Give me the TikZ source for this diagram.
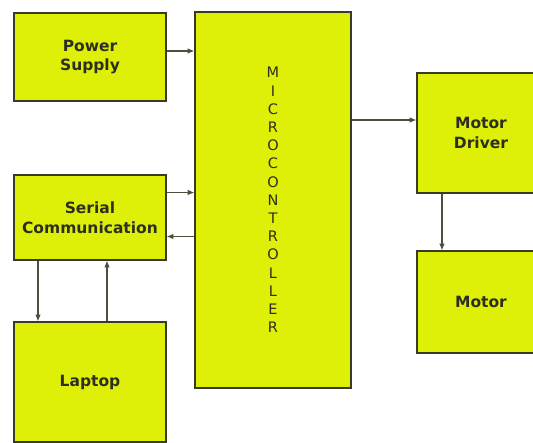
\documentclass[tikz,border=0pt]{standalone}
\usepackage{fontspec}
\setsansfont{DejaVu Sans}
\usetikzlibrary{arrows.meta,positioning}
\definecolor{blkfill}{RGB}{222,240,8}
\definecolor{blkline}{RGB}{58,58,40}
\tikzset{
  blkarr/.style={-{Latex[length=2.4mm,width=2mm]}, line width=1.1pt, draw=blkline!90},
  blknode/.style={draw=blkline, line width=1.3pt, fill=blkfill, align=center, inner sep=2pt},
}

\begin{document}
\begin{tikzpicture}[
  x=1pt, y=-1pt,
  font=\sffamily\bfseries\fontsize{15.5}{19.5}\selectfont,
  blk/.style={blknode, text=blkline!80!black},
]
  \useasboundingbox (0,0) rectangle (533,443);
  \clip (0,0) rectangle (533,443);
  \node[blk, minimum width=152pt, minimum height=88pt] (ps) at (90,57) {Power\\Supply};
  \node[blk, minimum width=152pt, minimum height=85pt] (ser) at (90,217.5) {Serial\\Communication};
  \node[blk, minimum width=152pt, minimum height=120pt] (lap) at (90,382) {Laptop};
  \node[blk, minimum width=156pt, minimum height=376pt,
        font=\sffamily\fontsize{14.5}{18.2}\selectfont] (mc) at (273,200)
        {M\\I\\C\\R\\O\\C\\O\\N\\T\\R\\O\\L\\L\\E\\R};
  \node[blk, minimum width=128pt, minimum height=120pt] (drv) at (481,133) {Motor\\Driver};
  \node[blk, minimum width=128pt, minimum height=102pt] (mot) at (481,302) {Motor};
  \draw[blkarr] ([yshift=6pt]ps.east) -- ([yshift=6pt]ps.east -| mc.west);
  \draw[blkarr] ([yshift=25pt]ser.east) -- ([yshift=25pt]ser.east -| mc.west);
  \draw[blkarr] ([yshift=-19pt]ser.east -| mc.west) -- ([yshift=-19pt]ser.east);
  \draw[blkarr] ([xshift=-52pt]ser.south) -- ([xshift=-52pt]ser.south |- lap.north);
  \draw[blkarr] ([xshift=17pt]ser.south |- lap.north) -- ([xshift=17pt]ser.south);
  \draw[blkarr] ([yshift=13pt]drv.west -| mc.east) -- ([yshift=13pt]drv.west);
  \draw[blkarr] ([xshift=-39pt]drv.south) -- ([xshift=-39pt]drv.south |- mot.north);
\end{tikzpicture}
\end{document}
